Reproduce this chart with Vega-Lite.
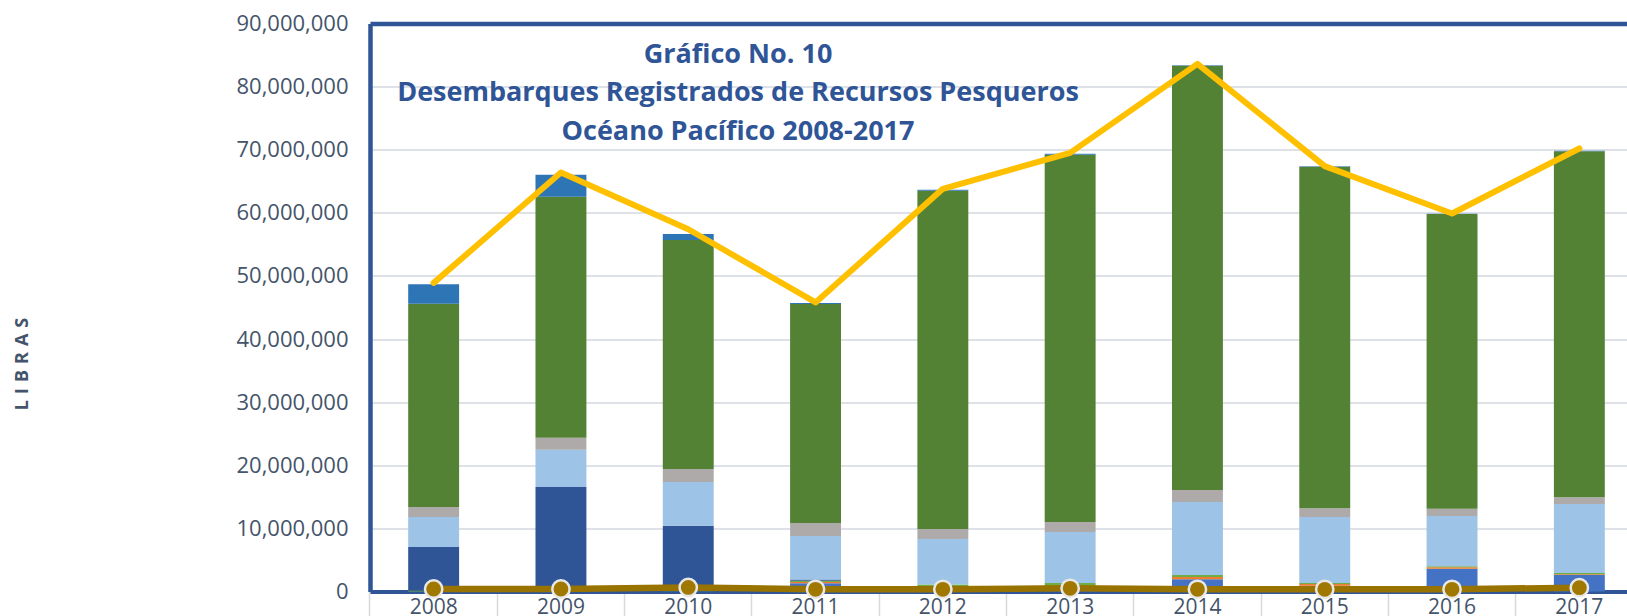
{
  "$schema": "https://vega.github.io/schema/vega-lite/v6.json",
  "width": 1257,
  "height": 568,
  "autosize": {"type": "none"},
  "padding": {"left": 370, "top": 23.5, "right": 0, "bottom": 24.5},
  "background": "white",
  "config": {"view": {"stroke": null}, "font": "Open Sans"},
  "title": {
    "text": ["Gráfico No. 10", "Desembarques Registrados de Recursos Pesqueros", "Océano Pacífico 2008-2017"],
    "anchor": "middle",
    "frame": "group",
    "font": "Open Sans",
    "fontSize": 27,
    "fontWeight": "bold",
    "color": "#2F5597",
    "lineHeight": 38.5,
    "baseline": "top",
    "offset": 0,
    "dx": -260.5,
    "dy": 133
  },
  "datasets": {
    "barras": [
      {"anio": "2008", "serie": "Serie 1", "libras": 0},
      {"anio": "2008", "serie": "Serie 2", "libras": 0},
      {"anio": "2008", "serie": "Serie 3", "libras": 150000},
      {"anio": "2008", "serie": "Serie 4", "libras": 6900000},
      {"anio": "2008", "serie": "Serie 5", "libras": 4750000},
      {"anio": "2008", "serie": "Serie 6", "libras": 1600000},
      {"anio": "2008", "serie": "Serie 7", "libras": 32200000},
      {"anio": "2008", "serie": "Serie 8", "libras": 3100000},
      {"anio": "2009", "serie": "Serie 1", "libras": 0},
      {"anio": "2009", "serie": "Serie 2", "libras": 0},
      {"anio": "2009", "serie": "Serie 3", "libras": 50000},
      {"anio": "2009", "serie": "Serie 4", "libras": 16500000},
      {"anio": "2009", "serie": "Serie 5", "libras": 5900000},
      {"anio": "2009", "serie": "Serie 6", "libras": 1900000},
      {"anio": "2009", "serie": "Serie 7", "libras": 38200000},
      {"anio": "2009", "serie": "Serie 8", "libras": 3500000},
      {"anio": "2010", "serie": "Serie 1", "libras": 0},
      {"anio": "2010", "serie": "Serie 2", "libras": 0},
      {"anio": "2010", "serie": "Serie 3", "libras": 50000},
      {"anio": "2010", "serie": "Serie 4", "libras": 10350000},
      {"anio": "2010", "serie": "Serie 5", "libras": 6950000},
      {"anio": "2010", "serie": "Serie 6", "libras": 2050000},
      {"anio": "2010", "serie": "Serie 7", "libras": 36300000},
      {"anio": "2010", "serie": "Serie 8", "libras": 950000},
      {"anio": "2011", "serie": "Serie 1", "libras": 1300000},
      {"anio": "2011", "serie": "Serie 2", "libras": 200000},
      {"anio": "2011", "serie": "Serie 3", "libras": 200000},
      {"anio": "2011", "serie": "Serie 4", "libras": 200000},
      {"anio": "2011", "serie": "Serie 5", "libras": 6900000},
      {"anio": "2011", "serie": "Serie 6", "libras": 2050000},
      {"anio": "2011", "serie": "Serie 7", "libras": 34700000},
      {"anio": "2011", "serie": "Serie 8", "libras": 150000},
      {"anio": "2012", "serie": "Serie 1", "libras": 600000},
      {"anio": "2012", "serie": "Serie 2", "libras": 0},
      {"anio": "2012", "serie": "Serie 3", "libras": 500000},
      {"anio": "2012", "serie": "Serie 4", "libras": 0},
      {"anio": "2012", "serie": "Serie 5", "libras": 7200000},
      {"anio": "2012", "serie": "Serie 6", "libras": 1600000},
      {"anio": "2012", "serie": "Serie 7", "libras": 53600000},
      {"anio": "2012", "serie": "Serie 8", "libras": 150000},
      {"anio": "2013", "serie": "Serie 1", "libras": 300000},
      {"anio": "2013", "serie": "Serie 2", "libras": 0},
      {"anio": "2013", "serie": "Serie 3", "libras": 1050000},
      {"anio": "2013", "serie": "Serie 4", "libras": 0},
      {"anio": "2013", "serie": "Serie 5", "libras": 8080000},
      {"anio": "2013", "serie": "Serie 6", "libras": 1570000},
      {"anio": "2013", "serie": "Serie 7", "libras": 58200000},
      {"anio": "2013", "serie": "Serie 8", "libras": 150000},
      {"anio": "2014", "serie": "Serie 1", "libras": 1930000},
      {"anio": "2014", "serie": "Serie 2", "libras": 370000},
      {"anio": "2014", "serie": "Serie 3", "libras": 300000},
      {"anio": "2014", "serie": "Serie 4", "libras": 0},
      {"anio": "2014", "serie": "Serie 5", "libras": 11600000},
      {"anio": "2014", "serie": "Serie 6", "libras": 1900000},
      {"anio": "2014", "serie": "Serie 7", "libras": 67200000},
      {"anio": "2014", "serie": "Serie 8", "libras": 100000},
      {"anio": "2015", "serie": "Serie 1", "libras": 900000},
      {"anio": "2015", "serie": "Serie 2", "libras": 300000},
      {"anio": "2015", "serie": "Serie 3", "libras": 150000},
      {"anio": "2015", "serie": "Serie 4", "libras": 0},
      {"anio": "2015", "serie": "Serie 5", "libras": 10450000},
      {"anio": "2015", "serie": "Serie 6", "libras": 1400000},
      {"anio": "2015", "serie": "Serie 7", "libras": 54100000},
      {"anio": "2015", "serie": "Serie 8", "libras": 100000},
      {"anio": "2016", "serie": "Serie 1", "libras": 3600000},
      {"anio": "2016", "serie": "Serie 2", "libras": 250000},
      {"anio": "2016", "serie": "Serie 3", "libras": 150000},
      {"anio": "2016", "serie": "Serie 4", "libras": 0},
      {"anio": "2016", "serie": "Serie 5", "libras": 7950000},
      {"anio": "2016", "serie": "Serie 6", "libras": 1150000},
      {"anio": "2016", "serie": "Serie 7", "libras": 46700000},
      {"anio": "2016", "serie": "Serie 8", "libras": 50000},
      {"anio": "2017", "serie": "Serie 1", "libras": 2600000},
      {"anio": "2017", "serie": "Serie 2", "libras": 150000},
      {"anio": "2017", "serie": "Serie 3", "libras": 200000},
      {"anio": "2017", "serie": "Serie 4", "libras": 0},
      {"anio": "2017", "serie": "Serie 5", "libras": 10900000},
      {"anio": "2017", "serie": "Serie 6", "libras": 1100000},
      {"anio": "2017", "serie": "Serie 7", "libras": 54800000},
      {"anio": "2017", "serie": "Serie 8", "libras": 100000}
    ],
    "lineas": [
      {"anio": "2008", "total": 48900000, "otros": 400000},
      {"anio": "2009", "total": 66400000, "otros": 400000},
      {"anio": "2010", "total": 57400000, "otros": 650000},
      {"anio": "2011", "total": 45800000, "otros": 350000},
      {"anio": "2012", "total": 63800000, "otros": 350000},
      {"anio": "2013", "total": 69500000, "otros": 500000},
      {"anio": "2014", "total": 83600000, "otros": 350000},
      {"anio": "2015", "total": 67400000, "otros": 350000},
      {"anio": "2016", "total": 59900000, "otros": 350000},
      {"anio": "2017", "total": 70200000, "otros": 600000}
    ]
  },
  "layer": [
    {
      "data": {"name": "barras"},
      "mark": {"type": "bar"},
      "encoding": {
        "x": {
          "field": "anio", "type": "ordinal",
          "scale": {"range": [0, 1273], "paddingInner": 0.6, "paddingOuter": 0.3},
          "axis": {
            "orient": "bottom", "title": null, "labelAngle": 0,
            "labelFont": "Open Sans", "labelFontSize": 21, "labelColor": "#44546A",
            "domainColor": "#2F5597", "domainWidth": 4,
            "ticks": true, "tickColor": "#D9D9D9", "tickWidth": 1.5, "tickSize": 26,
            "bandPosition": -0.75, "labelPadding": -21, "grid": false
          }
        },
        "y": {
          "field": "libras", "type": "quantitative", "stack": "zero",
          "scale": {"domain": [0, 90000000], "nice": false},
          "axis": {
            "orient": "left",
            "values": [0, 10000000, 20000000, 30000000, 40000000, 50000000, 60000000, 70000000, 80000000, 90000000],
            "format": ",d",
            "labelFont": "Open Sans", "labelFontSize": 22, "labelColor": "#44546A", "labelPadding": 22,
            "ticks": false, "domainColor": "#2F5597", "domainWidth": 4.5,
            "grid": true, "gridColor": "#DEE2E8", "gridWidth": 2,
            "title": "L\u2004I\u2004B\u2004R\u2004A\u2004S", "titleFont": "Open Sans", "titleFontSize": 18, "titleFontWeight": "bold",
            "titleColor": "#44546A", "titleAngle": 270, "titleX": -348, "titleY": 340,
            "titleAlign": "center", "titleBaseline": "middle"
          }
        },
        "color": {
          "field": "serie", "type": "nominal", "legend": null,
          "scale": {
            "domain": ["Serie 1", "Serie 2", "Serie 3", "Serie 4", "Serie 5", "Serie 6", "Serie 7", "Serie 8"],
            "range": ["#4472C4", "#ED7D31", "#70AD47", "#2F5597", "#9DC3E6", "#AEAAAA", "#548235", "#2E75B6"]
          }
        },
        "order": {"field": "serie", "sort": "ascending"}
      }
    },
    {
      "data": {"name": "lineas"},
      "mark": {"type": "line", "color": "#FFC000", "strokeWidth": 6, "strokeCap": "round", "strokeJoin": "round"},
      "encoding": {
        "x": {
          "field": "anio", "type": "ordinal",
          "axis": {"orient": "top", "title": null, "labels": false, "ticks": false, "grid": false, "domainColor": "#2F5597", "domainWidth": 4.5}
        },
        "y": {"field": "total", "type": "quantitative"}
      }
    },
    {
      "data": {"name": "lineas"},
      "mark": {"type": "line", "color": "#997300", "strokeWidth": 6.5, "strokeJoin": "round"},
      "encoding": {
        "x": {"field": "anio", "type": "ordinal", "axis": null},
        "y": {"field": "otros", "type": "quantitative"}
      }
    },
    {
      "data": {"name": "lineas"},
      "mark": {"type": "point", "shape": "circle", "filled": true, "size": 300, "fill": "#A07800", "stroke": "#E8E8E8", "strokeWidth": 2.5, "opacity": 1},
      "encoding": {
        "x": {"field": "anio", "type": "ordinal", "axis": null},
        "y": {"field": "otros", "type": "quantitative"}
      }
    }
  ],
  "resolve": {"axis": {"x": "independent"}}
}
